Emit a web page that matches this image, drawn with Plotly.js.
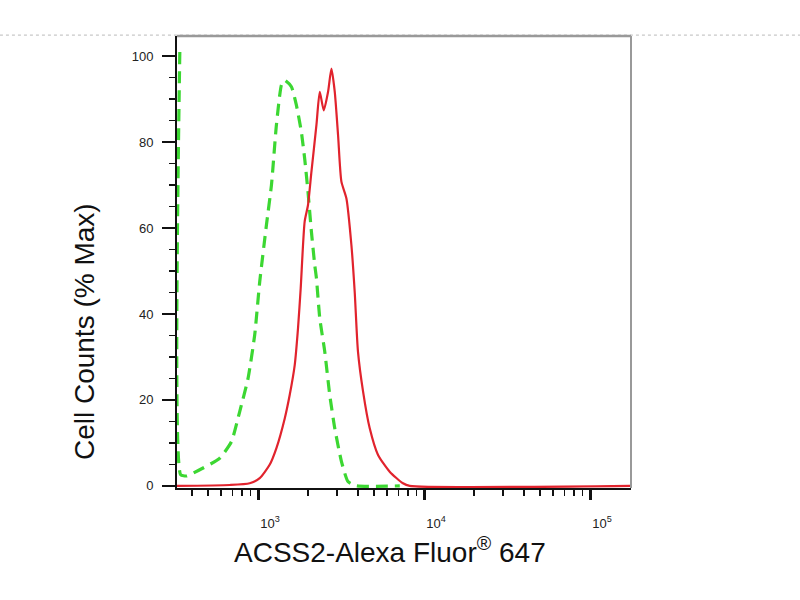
<!DOCTYPE html>
<html>
<head>
<meta charset="utf-8">
<script src="https://cdn.plot.ly/plotly-3.0.1.min.js"></script>
<style>
  html, body { margin: 0; padding: 0; background: #fff; }
  #chart { width: 800px; height: 600px; }
</style>
</head>
<body>
<div id="chart"></div>
<script>
// ACSS2 stained sample (red, solid)
const redX = [325, 676, 891, 1024, 1175, 1291, 1449, 1553, 1664, 1742, 1808, 1910, 2000, 2097, 2249, 2355,
  2489, 2642, 2769, 2900, 3036, 3180, 3409, 3654, 3826, 4000, 4293, 4710, 5286, 6214, 7470, 8200, 175800];
const redY = [0, 0.2, 0.6, 1.8, 4.9, 8.8, 15.7, 21.2, 28.1, 36.7, 46, 61.5, 65.3, 73, 84, 91.7,
  87.4, 91.7, 97.1, 91.7, 81.6, 70.8, 66.9, 56, 45, 31.3, 22, 13.4, 7.2, 3.3, 0.6, 0, 0];

// isotype control (green, dashed)
const greenX = [338, 342, 371, 464, 587, 692, 776, 871, 955, 1024, 1124, 1205, 1291, 1384, 1449, 1589,
  1703, 1824, 1910, 2000, 2097, 2197, 2249, 2355, 2523, 2704, 2900, 3180, 3483, 3917, 7145];
const greenY = [101, 2.6, 2.3, 4.1, 6.4, 10.3, 17.3, 25, 35.1, 47.5, 60.7, 70, 84, 93.3, 94.4, 92.9,
  88.6, 82.4, 76.2, 68.5, 59.2, 51.4, 48.3, 39, 31.3, 21.2, 13.4, 5.7, 1, 0, 0];

const xTickVals = [1000, 10000, 100000];
const xTickText = ['10<sup>3</sup>', '10<sup>4</sup>', '10<sup>5</sup>'];

const data = [
  {
    x: greenX, y: greenY, mode: 'lines', type: 'scatter',
    line: {color: 'rgb(60,215,50)', width: 3.2, dash: '12px,7px', shape: 'spline', smoothing: 0.5},
    hoverinfo: 'skip'
  },
  {
    x: redX, y: redY, mode: 'lines', type: 'scatter',
    line: {color: 'rgb(225,35,45)', width: 2.2, shape: 'spline', smoothing: 0.6},
    hoverinfo: 'skip'
  }
];

const tickFont = {family: 'Liberation Sans, Arial, sans-serif', size: 13, color: '#222'};

const layout = {
  width: 800,
  height: 600,
  showlegend: false,
  paper_bgcolor: '#fff',
  plot_bgcolor: '#fff',
  margin: {l: 177, r: 169, t: 36, b: 112},
  xaxis: {
    type: 'log',
    range: [2.512, 5.247],
    tickmode: 'array',
    tickvals: xTickVals,
    ticktext: xTickText,
    ticks: 'outside',
    ticklen: 10,
    tickwidth: 3,
    tickcolor: '#111',
    ticklabelstandoff: 12,
    ticklabelshift: 12,
    tickfont: tickFont,
    showline: true,
    linecolor: '#111',
    linewidth: 2,
    showgrid: false,
    zeroline: false,
    minor: {ticks: 'outside', ticklen: 6, tickwidth: 1.5, tickcolor: '#111', dtick: 'D1', showgrid: false}
  },
  yaxis: {
    range: [-0.5, 104.7],
    tickvals: [0, 20, 40, 60, 80, 100],
    ticks: 'outside',
    ticklen: 13,
    tickwidth: 2.5,
    tickcolor: '#111',
    ticklabelstandoff: 6,
    tickfont: tickFont,
    showline: true,
    linecolor: '#111',
    linewidth: 2,
    showgrid: false,
    zeroline: false,
    minor: {ticks: 'outside', ticklen: 6, tickwidth: 1.5, tickcolor: '#111', dtick: 5, showgrid: false}
  },
  shapes: [
    // dotted figure line across the top
    {type: 'line', xref: 'paper', yref: 'paper', x0: -0.39, x1: 1.38, y0: 1.002, y1: 1.002,
      line: {color: '#bbb', width: 1, dash: 'dot'}},
    // grey frame top and right
    {type: 'line', xref: 'paper', yref: 'paper', x0: 0, x1: 1, y0: 1, y1: 1,
      line: {color: '#999', width: 2.5}},
    {type: 'line', xref: 'paper', yref: 'paper', x0: 1, x1: 1, y0: 0, y1: 1,
      line: {color: '#999', width: 2}}
  ],
  annotations: [
    {text: 'ACSS2-Alexa Fluor<sup>®</sup> 647', xref: 'paper', yref: 'paper',
      x: 0.469, y: -0.137, xanchor: 'center', yanchor: 'middle', showarrow: false,
      font: {family: 'Liberation Sans, Arial, sans-serif', size: 28, color: '#111'}},
    {text: 'Cell Counts (% Max)', xref: 'paper', yref: 'paper', textangle: -90,
      x: -0.205, y: 0.347, xanchor: 'center', yanchor: 'middle', showarrow: false,
      font: {family: 'Liberation Sans, Arial, sans-serif', size: 28, color: '#111'}}
  ]
};

Plotly.newPlot('chart', data, layout, {staticPlot: true, displayModeBar: false});
</script>
</body>
</html>
